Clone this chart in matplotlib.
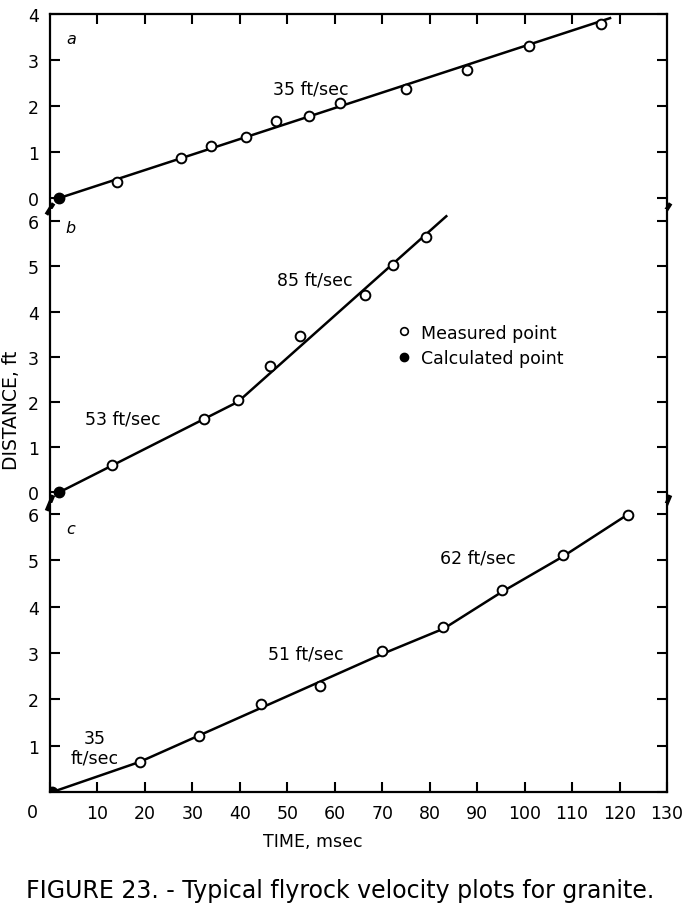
import matplotlib
matplotlib.use("Agg")
import matplotlib.pyplot as plt
from matplotlib.lines import Line2D

# panel a - measured points (time msec, distance ft)
a_t = [14.1, 27.6, 33.9, 41.2, 47.7, 54.6, 61.1, 75.1, 87.8, 101.0, 116.0]
a_d = [0.35, 0.87, 1.13, 1.33, 1.68, 1.79, 2.07, 2.38, 2.78, 3.30, 3.78]
a_calc = (2.0, 0.0)
a_line_t = [2.0, 118.0]
a_line_d = [0.0, 3.91]

# panel b
b_t = [13.0, 32.5, 39.6, 46.3, 52.6, 66.3, 72.3, 79.2]
b_d = [0.60, 1.63, 2.03, 2.79, 3.45, 4.36, 5.04, 5.66]
b_calc = (2.0, 0.0)
b_line_t = [2.0, 39.6, 83.5]
b_line_d = [0.0, 2.0, 6.11]

# panel c
c_t = [18.9, 31.4, 44.4, 56.8, 69.9, 82.7, 95.2, 108.0, 121.7]
c_d = [0.65, 1.21, 1.90, 2.29, 3.05, 3.56, 4.36, 5.12, 5.99]
c_calc = (0.5, 0.0)
c_line_t = [0.5, 18.9, 70.0, 83.0, 95.2, 108.0, 121.7]
c_line_d = [0.0, 0.65, 2.98, 3.53, 4.32, 5.08, 5.99]

x_ticks = list(range(0, 140, 10))

W, H = 686, 912
fig = plt.figure(figsize=(W / 100, H / 100), dpi=100)

def rect(top, bottom):
    return [50 / W, 1 - bottom / H, 617 / W, (bottom - top) / H]

ax_a = fig.add_axes(rect(15, 210))
ax_b = fig.add_axes(rect(210, 504))
ax_c = fig.add_axes(rect(504, 793))

lims = {ax_a: (-0.24, 4.0), ax_b: (-0.24, 6.27), ax_c: (0.0, 6.24)}
ymax = {ax_a: 4, ax_b: 6, ax_c: 6}

for ax in (ax_a, ax_b, ax_c):
    ax.set_xlim(0, 130)
    ax.set_ylim(*lims[ax])
    for s in ax.spines.values():
        s.set_linewidth(1.6)
    ax.spines['top'].set_visible(False)
    ax.spines['bottom'].set_visible(False)
    top = ymax[ax]
    ax.set_yticks(range(0, top + 1))
    ax.set_yticks([0, top], minor=True)
    ax.tick_params(axis='y', which='major', direction='in', length=7, width=1.5,
                   left=True, right=True, labelsize=12.5, pad=8)
    ax.tick_params(axis='y', which='minor', direction='in', length=16, width=1.5,
                   left=True, right=True)
    ax.set_xticks([])

# top spine on panel a with down-pointing ticks
ax_a.spines['top'].set_visible(True)
ax_a.set_xticks(x_ticks[1:-1])
ax_a.tick_params(axis='x', direction='in', length=7, width=1.5, top=True,
                 bottom=False, labeltop=False, labelbottom=False)

# bottom spine on panel c with up-pointing ticks
ax_c.spines['bottom'].set_visible(True)
ax_c.set_xticks(x_ticks)
ax_c.set_xticklabels([''] + [str(v) for v in x_ticks[1:]])
ax_c.tick_params(axis='x', direction='in', length=7, width=1.5, labelsize=12.5, pad=9)
ax_c.set_yticks(range(0, 7))
ax_c.set_yticklabels([''] + [str(v) for v in range(1, 7)])
ax_c.annotate('0', xy=(0, 0), xycoords='data', xytext=(-13, -14.5),
              textcoords='offset points', ha='center', va='center', fontsize=12.5)

mk = dict(marker='o', ms=7, mfc='white', mec='black', mew=1.4, ls='none', zorder=3)
ck = dict(marker='o', ms=7.5, mfc='black', mec='black', ls='none', zorder=3)

ax_a.plot(a_line_t, a_line_d, color='black', lw=1.8)
ax_a.plot(a_t, a_d, **mk)
ax_a.plot(*a_calc, **ck)

ax_b.plot(b_line_t, b_line_d, color='black', lw=1.8)
ax_b.plot(b_t, b_d, **mk)
ax_b.plot(*b_calc, **ck)

ax_c.plot(c_line_t, c_line_d, color='black', lw=1.8)
ax_c.plot(c_t, c_d, **mk)
ax_c.plot(*c_calc, **ck)

tk = dict(fontsize=12.5, color='black')
ax_a.text(46.9, 2.37, '35 ft/sec', va='center', **tk)
ax_b.text(47.8, 4.71, '85 ft/sec', va='center', **tk)
ax_b.text(7.4, 1.63, '53 ft/sec', va='center', **tk)
ax_c.text(45.9, 3.0, '51 ft/sec', va='center', **tk)
ax_c.text(82.1, 5.06, '62 ft/sec', va='center', **tk)
ax_c.text(9.5, 0.96, '35\nft/sec', va='center', ha='center', linespacing=1.1, **tk)

for ax, lab, y in ((ax_a, 'a', 3.46), (ax_b, 'b', 5.86), (ax_c, 'c', 5.69)):
    ax.text(4.4, y, lab, style='italic', fontsize=11.5, va='center', ha='center')

handles = [Line2D([], [], marker='o', ms=5.5, mfc='white', mec='black', mew=1.2, ls='none'),
           Line2D([], [], marker='o', ms=6, mfc='black', mec='black', ls='none')]
ax_b.legend(handles, ['Measured point', 'Calculated point'], loc='upper left',
            bbox_to_anchor=(0.545, 0.64), frameon=False, fontsize=12.5,
            handlelength=1.0, handletextpad=0.5, borderpad=0, labelspacing=0.45)

# break marks on the left and right spines between panels
for ax in (ax_a, ax_b):
    for xf in (0, 1):
        ax.plot([xf - 0.004, xf + 0.004], [-0.02, 0.02], transform=ax.transAxes,
                color='black', lw=3, clip_on=False, zorder=5)

fig.text(12 / W, 1 - 410 / H, 'DISTANCE, ft', rotation=90, ha='center', va='center', fontsize=13.5)
fig.text(313 / W, 1 - 842 / H, 'TIME, msec', ha='center', va='center', fontsize=12.5)
fig.text(340 / W, 1 - 891 / H, 'FIGURE 23. - Typical flyrock velocity plots for granite.',
         ha='center', va='center', fontsize=17)

fig.savefig('out.png', dpi=100)
